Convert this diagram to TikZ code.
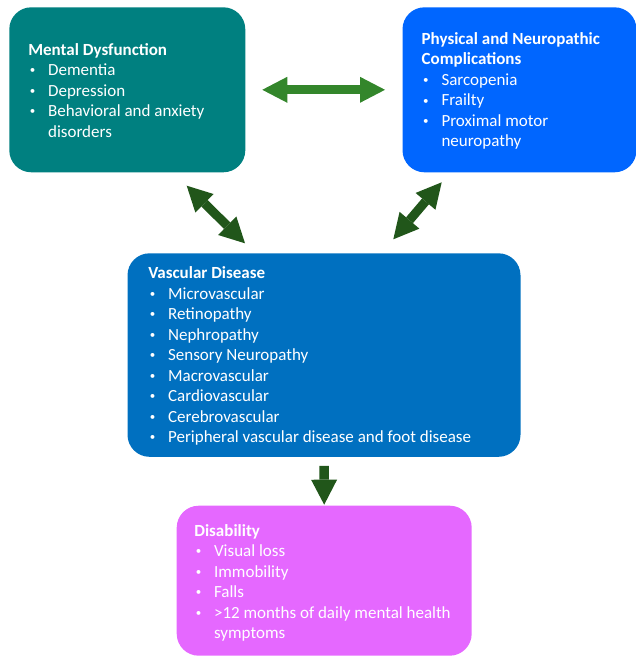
\documentclass[tikz,border=0pt]{standalone}
\usepackage{fontspec}
\setmainfont{Carlito}
\usetikzlibrary{arrows.meta}
\definecolor{cteal}{RGB}{0,128,128}
\definecolor{cbright}{RGB}{0,102,255}
\definecolor{cvasc}{HTML}{0070C0}
\definecolor{cpink}{RGB}{229,104,255}
\definecolor{gLight}{RGB}{51,134,43}
\definecolor{gDark}{RGB}{33,86,26}
\newcommand\bitem[1]{\makebox[19.8pt][l]{\hspace{1.5pt}\raisebox{1.6pt}{\fontsize{11}{11}\selectfont•}}#1}
\newcommand\bcont[1]{\hspace*{19.8pt}#1}
\newcommand\boxtext[1]{\parbox[t]{330pt}{\raggedright\fontsize{17}{20.5}\selectfont#1}}
\tikzset{
  panel/.style={rounded corners=22pt, inner sep=0pt, outer sep=0pt, anchor=north west, draw=none},
  txt/.style={inner sep=0pt, outer sep=0pt, anchor=base west, text=white},
  fat/.style={line width=9pt, {Triangle[length=25pt,width=26pt,line width=0pt]}-{Triangle[length=25pt,width=26pt,line width=0pt]}},
  fatone/.style={line width=9.5pt, -{Triangle[length=25pt,width=26pt,line width=0pt]}}
}
\begin{document}
\begin{tikzpicture}[x=1pt,y=-1pt]
\useasboundingbox (0,0) rectangle (636,656);
% boxes
\node[panel, fill=cteal, minimum width=236pt, minimum height=165pt] (m) at (9.3,7.3) {};
\node[panel, fill=cbright, minimum width=234pt, minimum height=165pt] (p) at (402.5,7.3) {};
\node[panel, fill=cvasc, minimum width=393pt, minimum height=203.5pt] (v) at (127.5,253.3) {};
\node[panel, fill=cpink, minimum width=295pt, minimum height=150pt] (d) at (176.7,505.7) {};
% texts
\node[txt] (mt) at (28.3,55) {\boxtext{\textbf{Mental Dysfunction}\\
\bitem{Dementia}\\
\bitem{Depression}\\
\bitem{Behavioral and anxiety}\\
\bcont{disorders}}};
\node[txt] (pt) at (421.7,44.3) {\boxtext{\textbf{Physical and Neuropathic}\\
\textbf{Complications}\\
\bitem{Sarcopenia}\\
\bitem{Frailty}\\
\bitem{Proximal motor}\\
\bcont{neuropathy}}};
\node[txt] (vt) at (148.3,278.5) {\boxtext{\textbf{Vascular Disease}\\
\bitem{Microvascular}\\
\bitem{Retinopathy}\\
\bitem{Nephropathy}\\
\bitem{Sensory Neuropathy}\\
\bitem{Macrovascular}\\
\bitem{Cardiovascular}\\
\bitem{Cerebrovascular}\\
\bitem{Peripheral vascular disease and foot disease}}};
\node[txt] (dt) at (194.3,536) {\boxtext{\textbf{Disability}\\
\bitem{Visual loss}\\
\bitem{Immobility}\\
\bitem{Falls}\\
\bitem{>12 months of daily mental health}\\
\bcont{symptoms}}};
% arrow end points
\coordinate (la) at (186.7,185.7);
\coordinate (lb) at (245,243.3);
\coordinate (ra) at (441.7,182.3);
\coordinate (rb) at (393.3,239.3);
% arrows
\draw[fat, draw=gLight, shorten <=17pt, shorten >=17.5pt] (m.east) -- (p.west);
\draw[fat, draw=gDark] (la) -- (lb);
\draw[fat, draw=gDark] (ra) -- (rb);
\draw[fatone, draw=gDark, shorten <=9pt, shorten >=1pt] (v.south) -- (d.north);
\end{tikzpicture}
\end{document}
